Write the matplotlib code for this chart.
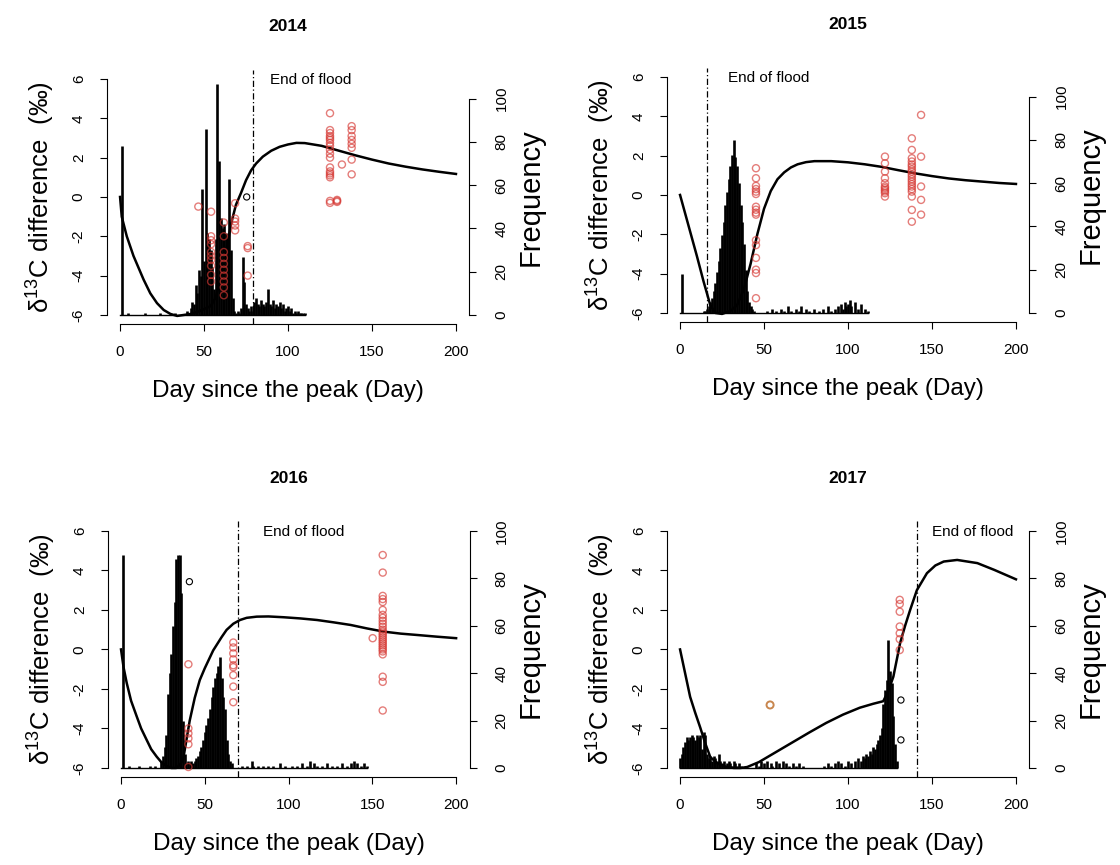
import numpy as np
import matplotlib
matplotlib.use("Agg")
import matplotlib.pyplot as plt

plt.rcParams['font.family'] = ['Liberation Sans', 'DejaVu Sans']
plt.rcParams['mathtext.default'] = 'regular'

years = ['2014', '2015', '2016', '2017']
flood_end = [79.4, 15.9, 70.0, 140.9]
flood_label_x = [89, 28.6, 85, 150]
# d13C value where frequency = 100 on the right axis
freq_top_d13c = [5.0, 5.0, 6.0, 6.0]

# ---- model curves (day, d13C difference)
curve_day_2014 = [0, 1, 4, 8, 14, 18, 22, 26, 30, 34, 38, 42, 46, 50, 54, 57, 60, 63, 66,
                  69, 72, 75, 78, 81, 85, 90, 95, 100, 105, 110, 120, 130, 140, 150, 160,
                  170, 180, 190, 200]
curve_val_2014 = [0, -1.0, -2.0, -3.0, -4.2, -4.9, -5.4, -5.75, -5.95, -6.05, -6.0, -5.95,
                  -5.85, -5.7, -5.55, -5.1, -4.1, -2.9, -1.4, -0.4, 0.2, 0.85, 1.35, 1.7,
                  2.05, 2.35, 2.55, 2.67, 2.75, 2.74, 2.6, 2.36, 2.12, 1.9, 1.7, 1.54, 1.4,
                  1.28, 1.17]

curve_day_2015 = [0, 5, 10, 14, 18, 21, 25, 30, 34, 38, 42, 46, 50, 54, 58, 62, 66, 70, 75,
                  80, 90, 100, 110, 120, 130, 140, 150, 160, 170, 180, 190, 200]
curve_val_2015 = [0, -1.55, -3.1, -4.4, -5.6, -6.0, -6.05, -5.9, -5.6, -4.8, -3.5, -2.0,
                  -0.7, 0.2, 0.8, 1.15, 1.4, 1.56, 1.67, 1.72, 1.72, 1.66, 1.56, 1.43, 1.26,
                  1.1, 0.96, 0.84, 0.75, 0.68, 0.61, 0.56]

curve_day_2016 = [0, 1.5, 3.4, 6, 9.4, 12, 15.3, 18, 21.3, 24, 27.2, 30, 33, 35, 37, 39, 41,
                  44, 47, 50, 55, 60, 63, 67, 71, 75, 81, 88, 97, 107, 117, 127, 137, 147,
                  157, 167, 177, 188, 200]
curve_val_2016 = [0, -0.9, -1.7, -2.6, -3.4, -4.0, -4.58, -5.05, -5.43, -5.7, -5.9, -6.0,
                  -6.0, -5.85, -5.6, -4.6, -3.6, -2.45, -1.55, -0.95, -0.05, 0.62, 0.99, 1.3,
                  1.49, 1.6, 1.66, 1.67, 1.63, 1.57, 1.49, 1.37, 1.24, 1.06, 0.9, 0.8, 0.73,
                  0.65, 0.57]

curve_day_2017 = [0, 3, 6, 9, 12, 15, 18, 22, 27, 32, 36, 40, 47, 57, 67, 77, 87, 97, 107,
                  115, 121, 124, 127, 131, 134, 137, 141, 147, 152, 157, 165, 177, 187, 200]
curve_val_2017 = [0, -1.2, -2.4, -3.2, -3.95, -4.75, -5.45, -5.75, -5.93, -6.0, -6.0, -5.95,
                  -5.7, -5.2, -4.7, -4.2, -3.72, -3.3, -2.95, -2.75, -2.62, -2.1, -1.38,
                  0.31, 1.2, 2.0, 3.0, 3.86, 4.25, 4.45, 4.53, 4.37, 4.03, 3.55]

# ---- daily frequency histograms
sparse_day_2014 = [1, 5, 15, 24, 33]
sparse_n_2014 = [78, 1, 1, 1, 1]
run_start_2014 = 40
run_n_2014 = [2, 1, 3, 6, 5, 14, 10, 21, 18, 58, 25, 86, 38, 35, 30, 22, 12, 35, 107, 71,
              45, 40, 42, 38, 35, 63, 30, 8, 2, 1, 2, 1, 3, 27, 15, 5, 3, 2, 4, 2, 6, 8, 5,
              4, 7, 5, 4, 6, 12, 5, 4, 7, 3, 5, 4, 6, 3, 5, 2, 3, 4, 2, 3, 1, 2, 1, 2, 1, 1,
              1, 1]

sparse_day_2015 = [1, 52, 55, 57, 60, 62, 64, 66, 69, 71, 72, 75, 77, 80, 83, 85, 88, 90, 92,
                   94, 96, 97, 98, 99, 100, 101, 102, 104, 106, 108, 110, 112]
sparse_n_2015 = [18, 1, 2, 1, 2, 1, 3, 1, 2, 1, 3, 2, 1, 2, 1, 2, 3, 1, 2, 3, 4, 2, 5, 3, 4,
                 6, 3, 5, 2, 4, 2, 1]
run_start_2015 = 14
run_n_2015 = [1, 1, 2, 3, 5, 7, 10, 14, 19, 24, 30, 36, 42, 50, 56, 62, 68, 73, 80, 72, 68,
              60, 50, 42, 32, 20, 10, 5, 3, 2, 1]

sparse_day_2016 = [1, 5, 11, 17, 20, 72, 75, 78, 79, 82, 85, 88, 91, 95, 98, 102, 105, 108,
                   111, 113, 115, 117, 120, 123, 126, 129, 132, 135, 137, 139, 141, 143, 145,
                   147]
sparse_n_2016 = [90, 1, 1, 1, 1, 1, 1, 3, 1, 1, 1, 1, 1, 2, 1, 1, 1, 2, 1, 3, 2, 1, 1, 2, 1,
                 1, 2, 1, 2, 3, 2, 1, 2, 1]
run_start_2016 = 24
run_n_2016 = [3, 5, 9, 14, 31, 40, 48, 60, 70, 88, 90, 90, 74, 20, 6, 2, 3, 2, 3, 2, 3, 4,
              5, 7, 9, 12, 15, 18, 21, 25, 30, 34, 38, 40, 43, 47, 38, 30, 25, 12, 6, 3, 2]

sparse_day_2017 = [45, 47, 48, 50, 52, 54, 55, 57, 59, 61, 63, 65, 67, 69, 71, 73, 86, 88,
                   90, 92, 94, 96, 98, 100, 102, 104, 106]
sparse_n_2017 = [2, 1, 3, 2, 3, 2, 1, 3, 2, 3, 2, 1, 2, 1, 2, 1, 1, 2, 1, 2, 3, 2, 1, 3, 2,
                 3, 4]
run_start_2017 = 0
run_n_2017 = [4, 6, 9, 11, 13, 12, 13, 14, 13, 12, 14, 13, 14, 8, 15, 14, 6, 4, 5, 3, 5, 4,
              3, 6, 3, 2, 3, 1, 2, 3, 2, 1, 3, 2, 1, 2, 1]
run2_start_2017 = 108
run2_n_2017 = [3, 5, 4, 6, 5, 7, 6, 9, 8, 10, 12, 14, 17, 27, 33, 37, 54, 41, 36, 22, 10, 3]

# ---- isotope samples: columns of points (day, list of d13C values)
red_day_2014 = [46.6, 54.2, 61.8, 68.5, 76.0, 125.0, 129.2, 132.1, 137.9]
red_val_2014 = [[-0.49],
                [-0.75, -2.0, -2.2, -2.4, -2.8, -3.0, -3.2, -3.5, -3.96, -4.3],
                [-1.3, -2.0, -2.8, -3.1, -3.4, -3.7, -4.0, -4.3, -4.6, -5.0],
                [-0.32, -1.1, -1.25, -1.45, -1.7],
                [-2.5, -2.6, -4.0],
                [4.26, 3.4, 3.25, 3.1, 3.0, 2.9, 2.75, 2.6, 2.4, 2.2, 2.0, 1.5, 1.3, 1.2,
                 1.1, 1.0, -0.2, -0.3],
                [-0.15, -0.2, -0.25],
                [1.65],
                [3.6, 3.4, 3.1, 2.9, 2.7, 2.5, 1.9, 1.15]]
blk_day_2014 = [75.4]
blk_val_2014 = [0.0]

red_day_2015 = [45.2, 122.0, 138.0, 143.5]
red_val_2015 = [[1.36, 0.85, 0.46, 0.3, 0.17, 0.05, -0.6, -0.75, -0.9, -1.0, -2.3, -2.55,
                 -3.2, -3.8, -3.97, -5.25],
                [1.95, 1.61, 1.19, 0.85, 0.6, 0.43, 0.35, 0.26, 0.18, 0.09, -0.08],
                [2.88, 2.29, 1.87, 1.7, 1.55, 1.44, 1.3, 1.19, 1.05, 0.93, 0.8, 0.68, 0.55,
                 0.43, 0.3, 0.17, -0.08, -0.76, -1.36],
                [4.07, 1.95, 0.43, -0.25, -1.0]]
blk_day_2015 = []
blk_val_2015 = []

red_day_2016 = [40.2, 67.0, 150.2, 156.2]
red_val_2016 = [[-0.75, -4.0, -4.25, -4.5, -4.8, -5.95],
                [0.35, 0.1, -0.2, -0.5, -0.8, -0.9, -1.3, -1.88, -2.67],
                [0.57],
                [4.78, 3.89, 2.71, 2.55, 2.4, 2.0, 1.75, 1.6, 1.45, 1.3, 1.15, 1.0, 0.9, 0.8,
                 0.7, 0.6, 0.5, 0.4, 0.3, 0.2, 0.1, 0.0, -0.1, -0.25, -1.38, -1.64, -3.09]]
blk_day_2016 = [40.8]
blk_val_2016 = [3.43]

red_day_2017 = [130.8]
red_val_2017 = [[2.51, 2.3, 1.91, 1.16, 0.82, 0.52, -0.03]]
blk_day_2017 = [131.5, 131.5]
blk_val_2017 = [-2.56, -4.58]
tan_day_2017 = [53.6]
tan_val_2017 = [-2.81]

curves = [(curve_day_2014, curve_val_2014), (curve_day_2015, curve_val_2015),
          (curve_day_2016, curve_val_2016), (curve_day_2017, curve_val_2017)]
hists = [
    [(sparse_day_2014, sparse_n_2014), (np.arange(len(run_n_2014)) + run_start_2014, run_n_2014)],
    [(sparse_day_2015, sparse_n_2015), (np.arange(len(run_n_2015)) + run_start_2015, run_n_2015)],
    [(sparse_day_2016, sparse_n_2016), (np.arange(len(run_n_2016)) + run_start_2016, run_n_2016)],
    [(sparse_day_2017, sparse_n_2017), (np.arange(len(run_n_2017)) + run_start_2017, run_n_2017),
     (np.arange(len(run2_n_2017)) + run2_start_2017, run2_n_2017)],
]
reds = [(red_day_2014, red_val_2014), (red_day_2015, red_val_2015),
        (red_day_2016, red_val_2016), (red_day_2017, red_val_2017)]
blacks = [(blk_day_2014, blk_val_2014), (blk_day_2015, blk_val_2015),
          (blk_day_2016, blk_val_2016), (blk_day_2017, blk_val_2017)]

rects = [[0.0952, 0.6250, 0.3239, 0.2946], [0.5952, 0.6273, 0.3239, 0.2946],
         [0.0961, 0.1012, 0.3231, 0.2960], [0.5952, 0.1012, 0.3239, 0.2960]]

red_edge = (0.84, 0.22, 0.2, 0.65)

fig = plt.figure(figsize=(11.2, 8.65), dpi=100)

for i, yr in enumerate(years):
    ax = fig.add_axes(rects[i])
    ax2 = ax.twinx()
    ax.set_zorder(ax2.get_zorder() + 1)
    ax.patch.set_visible(False)

    # histogram on the frequency axis
    last_day = 0
    for days, counts in hists[i]:
        ax2.vlines(days, 0, counts, color='black', lw=1.9, capstyle='butt')
        last_day = max(last_day, max(days))
    ax2.plot([0, last_day], [0, 0], color='black', lw=1.0)

    # model curve
    cd, cv = curves[i]
    ax.plot(cd, cv, color='black', lw=1.8, zorder=3)

    # samples
    rd, rv = reds[i]
    xs = np.concatenate([np.full(len(v), d) for d, v in zip(rd, rv)])
    ys = np.concatenate([np.asarray(v, float) for v in rv])
    ax.scatter(xs, ys, s=26, facecolors='none', edgecolors=[red_edge], linewidths=1.0, zorder=4)
    bd, bv = blacks[i]
    if bd:
        ax.scatter(bd, bv, s=20, facecolors='none', edgecolors='black', linewidths=0.8, zorder=4)
    if yr == '2017':
        ax.scatter(tan_day_2017, tan_val_2017, s=26, facecolors='none',
                   edgecolors='#c8864e', linewidths=1.4, zorder=4)

    # end of flood
    ax.axvline(flood_end[i], color='black', lw=0.9, ls=(0, (5, 2, 1, 2)), zorder=2)
    ax.text(flood_label_x[i], 5.95, 'End of flood', fontsize=11, ha='left', va='center')

    # scales
    ax.set_xlim(-8, 208)
    ax.set_ylim(-6.48, 6.48)
    top = freq_top_d13c[i]
    ax2.set_ylim((-6.48 + 6) * 100 / (top + 6), (6.48 + 6) * 100 / (top + 6))

    for side in ['top', 'right']:
        ax.spines[side].set_visible(False)
    for side in ['top', 'left', 'bottom']:
        ax2.spines[side].set_visible(False)
    ax.spines['left'].set_bounds(-6, 6)
    ax.spines['bottom'].set_bounds(0, 200)
    ax2.spines['right'].set_bounds(0, 100)

    ax.set_xticks([0, 50, 100, 150, 200], labels=['0', '50', '100', '150', '200'])
    ax.set_yticks([-6, -4, -2, 0, 2, 4, 6],
                  labels=['-6', '-4', '-2', '0', '2', '4', '6'], rotation=90, va='center')
    ax2.set_yticks([0, 20, 40, 60, 80, 100],
                   labels=['0', '20', '40', '60', '80', '100'], rotation=90, va='center')
    ax.tick_params(axis='both', direction='out', length=5, width=0.8, labelsize=11)
    ax.tick_params(axis='y', pad=10)
    ax.tick_params(axis='x', pad=10)
    ax2.tick_params(axis='y', direction='out', length=5, width=0.8, labelsize=11, pad=13)

    ax.set_xlabel('Day since the peak (Day)', fontsize=17.5, labelpad=15)
    ax.set_ylabel('δ$^{13}$C difference  (‰)', fontsize=18.5, labelpad=11)
    ax2.set_ylabel('Frequency', fontsize=21, labelpad=6)
    ax.set_title(yr, fontsize=12.5, fontweight='bold', pad=28)

fig.savefig('out.png', dpi=100)
